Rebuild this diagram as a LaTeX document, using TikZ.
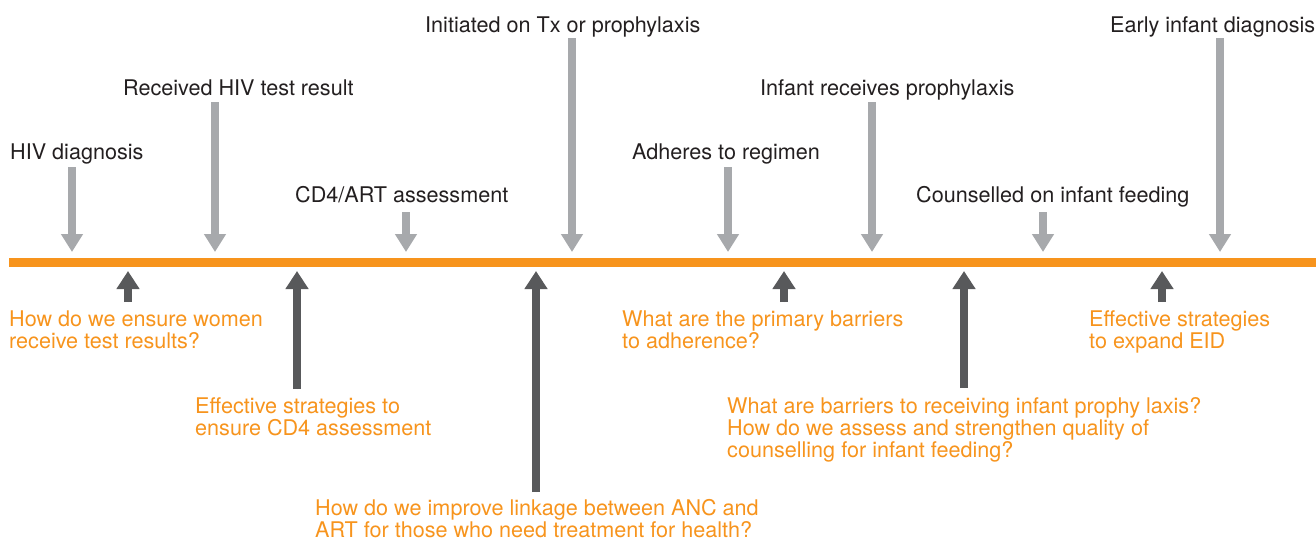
\documentclass[tikz,border=0pt]{standalone}
\usepackage{fontspec}
\setmainfont{TeX Gyre Heros}
\usetikzlibrary{arrows.meta}
\definecolor{lineorange}{HTML}{F7941D}
\definecolor{askorange}{HTML}{F7941D}
\definecolor{stepgray}{HTML}{A7A9AC}
\definecolor{askgray}{HTML}{58595B}
\definecolor{steptext}{HTML}{231F20}
\tikzset{
  steplabel/.style={anchor=base west, inner sep=0pt, text=steptext, font=\fontsize{21.6}{22}\selectfont},
  asklabel/.style={anchor=base west, inner sep=0pt, align=left, text=askorange, font=\fontsize{21.6}{22}\selectfont},
  downarrow/.style={draw=stepgray, fill=stepgray, line width=8pt, -{Triangle[width=21pt,length=18pt]}},
  uparrow/.style={draw=askgray, fill=askgray, line width=8pt, -{Triangle[width=22pt,length=18pt]}}
}
\begin{document}
\begin{tikzpicture}[x=1pt,y=-1pt]
			\useasboundingbox (0,0) rectangle (1316,542);
			% timeline
			\coordinate (tl-w) at (9,262);
			\coordinate (tl-e) at (1316,262);
			\draw[lineorange, line width=9pt] (tl-w) -- (tl-e);
			% steps above the line
			\node[steplabel] (hivdiag) at (10,159) {HIV diagnosis};
			\node[steplabel] (result) at (123,95) {Received HIV test result};
			\node[steplabel] (cdfour) at (295,202) {CD4/ART assessment};
			\node[steplabel] (initiated) at (425,32) {Initiated on Tx or prophylaxis};
			\node[steplabel] (adheres) at (632,159) {Adheres to regimen};
			\node[steplabel] (infproph) at (760,95) {Infant receives prophylaxis};
			\node[steplabel] (feeding) at (916,202) {Counselled on infant feeding};
			\node[steplabel] (eid) at (1110,32) {Early infant diagnosis};
			\coordinate (hivdiag-s) at (72,167);   \coordinate (hivdiag-t) at (72,252);
			\coordinate (result-s) at (215,102);   \coordinate (result-t) at (215,252);
			\coordinate (cdfour-s) at (406,212);   \coordinate (cdfour-t) at (406,252);
			\coordinate (initiated-s) at (572,38); \coordinate (initiated-t) at (572,252);
			\coordinate (adheres-s) at (728,167);  \coordinate (adheres-t) at (728,252);
			\coordinate (infproph-s) at (872,102); \coordinate (infproph-t) at (872,252);
			\coordinate (feeding-s) at (1043,212); \coordinate (feeding-t) at (1043,252);
			\coordinate (eid-s) at (1220,38);      \coordinate (eid-t) at (1220,252);
			\draw[downarrow] (hivdiag-s) -- (hivdiag-t);
			\draw[downarrow] (result-s) -- (result-t);
			\draw[downarrow] (cdfour-s) -- (cdfour-t);
			\draw[downarrow] (initiated-s) -- (initiated-t);
			\draw[downarrow] (adheres-s) -- (adheres-t);
			\draw[downarrow] (infproph-s) -- (infproph-t);
			\draw[downarrow] (feeding-s) -- (feeding-t);
			\draw[downarrow] (eid-s) -- (eid-t);
			% questions below the line (anchored on the last line)
			\node[asklabel] (askresult) at (9,348) {How do we ensure women\\receive test results?};
			\node[asklabel] (askcd) at (195,435) {Effective strategies to\\ensure CD4 assessment};
			\node[asklabel] (asklink) at (315,537) {How do we improve linkage between ANC and\\ART for those who need treatment for health?};
			\node[asklabel] (askadhere) at (622,348) {What are the primary barriers\\to adherence?};
			\node[asklabel] (askinfant) at (727,457) {What are barriers to receiving infant prophy laxis?\\How do we assess and strengthen quality of\\counselling for infant feeding?};
			\node[asklabel] (askeid) at (1089,348) {Effective strategies\\to expand EID};
			\coordinate (askresult-s) at (128,302); \coordinate (askresult-t) at (128,271);
			\coordinate (askcd-s) at (297,389);     \coordinate (askcd-t) at (297,271);
			\coordinate (asklink-s) at (536,492);   \coordinate (asklink-t) at (536,271);
			\coordinate (askadhere-s) at (784,302); \coordinate (askadhere-t) at (784,271);
			\coordinate (askinfant-s) at (964,388); \coordinate (askinfant-t) at (964,271);
			\coordinate (askeid-s) at (1162,302);   \coordinate (askeid-t) at (1162,271);
			\draw[uparrow] (askresult-s) -- (askresult-t);
			\draw[uparrow] (askcd-s) -- (askcd-t);
			\draw[uparrow] (asklink-s) -- (asklink-t);
			\draw[uparrow] (askadhere-s) -- (askadhere-t);
			\draw[uparrow] (askinfant-s) -- (askinfant-t);
			\draw[uparrow] (askeid-s) -- (askeid-t);
\end{tikzpicture}
\end{document}
